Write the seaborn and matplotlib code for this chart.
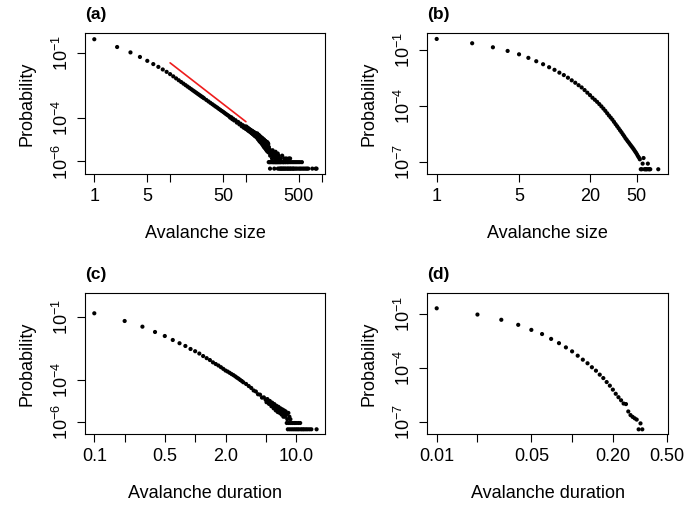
import numpy as np
import pandas as pd
import matplotlib
matplotlib.use("Agg")
import matplotlib.pyplot as plt
import seaborn as sns
from matplotlib.ticker import FixedLocator, FixedFormatter, NullLocator

# ---------------- data (log10 of probability) -------------
size_a = [1, 2, 3, 4, 5, 6, 7, 8, 9, 10,
          11, 12, 13, 14, 15, 16, 17, 18, 19, 20, 21, 22, 23, 24, 25, 26, 27, 28,
          30, 32, 34, 36, 38, 40, 42, 44, 46, 48, 50, 52, 54, 56, 58, 60, 62, 64,
          66, 68, 70, 73, 76, 79, 82, 85, 88, 91, 94, 97, 100,
          101, 103, 105, 107, 109, 111, 113, 115, 117, 119, 121, 123, 125, 127,
          129, 131, 133, 135, 137, 139, 141, 143, 145, 147, 149, 151, 153, 155,
          157, 159, 161, 163, 165, 167, 169, 171, 173, 175, 177, 179, 181, 183,
          185, 187, 189, 191, 193, 195, 197, 199,
          102, 104, 106, 108, 110, 112, 114, 116, 118, 120, 122, 124, 126, 128,
          130, 132, 134, 136, 138, 140, 142, 144, 146, 148, 150, 152, 154, 156,
          158, 160, 162, 164, 166, 168, 170, 172, 174, 176, 178, 180, 182, 184,
          186, 188, 190, 192, 194, 196, 198,
          201, 203, 206, 209, 213, 217, 221, 225, 230, 235, 241, 246, 251, 256,
          263, 270, 277, 289, 301, 322, 341, 368, 383,
          200, 205, 211, 219, 227, 232, 238, 244, 249, 254, 260, 266, 273, 281,
          286, 294, 305, 312, 318, 330, 338, 352, 360, 375, 392, 410, 428, 447,
          468, 490, 515, 548,
          208, 237, 264, 276, 284, 292, 298, 309, 315, 326, 334, 346, 357, 365,
          378, 388, 398, 415, 422, 438, 455, 475, 498, 520, 540, 565, 590, 615,
          640, 665, 752, 832, 855]
logp_a = [-0.34, -0.70, -0.95, -1.16, -1.34, -1.49, -1.62, -1.74, -1.85, -1.955,
          -2.058, -2.153, -2.24, -2.32, -2.395, -2.465, -2.531, -2.593, -2.652,
          -2.708, -2.76, -2.811, -2.86, -2.906, -2.95, -2.993, -3.03, -3.073,
          -3.148, -3.218, -3.284, -3.346, -3.405, -3.46, -3.51, -3.565, -3.612,
          -3.66, -3.70, -3.745, -3.79, -3.83, -3.864, -3.90, -3.97, -3.95,
          -4.04, -4.02, -4.10, -4.09, -4.20, -4.17, -4.28, -4.25, -4.37, -4.32,
          -4.44, -4.38, -4.50,
          -4.38, -4.50, -4.46, -4.57, -4.48, -4.60, -4.52, -4.64, -4.57, -4.69,
          -4.58, -4.73, -4.62, -4.77, -4.65, -4.82, -4.68, -4.85, -4.72, -4.88,
          -4.70, -4.95, -4.76, -5.00, -4.78, -5.06, -4.83, -5.10, -4.86, -5.14,
          -4.90, -5.19, -4.92, -5.24, -4.98, -5.30, -4.98, -5.35, -5.03, -5.38,
          -5.05, -5.43, -5.08, -5.48, -5.10, -5.52, -5.12, -5.55, -5.18, -5.57,
          -4.41, -4.52, -4.44, -4.55, -4.51, -4.61, -4.53, -4.55, -4.67, -4.60,
          -4.70, -4.63, -4.74, -4.66, -4.78, -4.70, -4.79, -4.73, -4.84, -4.76,
          -4.88, -4.79, -4.91, -4.82, -4.95, -4.86, -4.99, -4.89, -5.03, -4.94,
          -5.08, -4.96, -5.12, -5.00, -5.15, -5.02, -5.20, -5.06, -5.22, -5.09,
          -5.27, -5.12, -5.30, -5.14, -5.33, -5.17, -5.36, -5.20, -5.38,
          -5.33, -5.60, -5.45, -5.73, -5.55, -5.63, -5.86, -5.48, -5.73, -5.63,
          -5.86, -5.55, -5.73, -5.86, -5.63, -5.73, -5.86, -5.86, -5.73, -5.86,
          -5.86, -5.86, -5.86,
          -6.03, -6.03, -6.03, -6.03, -6.03, -6.03, -6.03, -6.03, -6.03, -6.03,
          -6.03, -6.03, -6.03, -6.03, -6.03, -6.03, -6.03, -6.03, -6.03, -6.03,
          -6.03, -6.03, -6.03, -6.03, -6.03, -6.03, -6.03, -6.03, -6.03, -6.03,
          -6.03, -6.03,
          -6.33, -6.33, -6.33, -6.33, -6.33, -6.33, -6.33, -6.33, -6.33, -6.33,
          -6.33, -6.33, -6.33, -6.33, -6.33, -6.33, -6.33, -6.33, -6.33, -6.33,
          -6.33, -6.33, -6.33, -6.33, -6.33, -6.33, -6.33, -6.33, -6.33, -6.33,
          -6.33, -6.33, -6.33]
fit_a_x = [10, 100]
fit_a_logp = [-1.434, -4.157]

size_b = list(range(1, 66)) + [76]
logp_b = [-0.41, -0.64, -0.855, -1.05, -1.23, -1.42, -1.60, -1.76, -1.92, -2.06,
          -2.21, -2.34, -2.48, -2.62, -2.75, -2.88, -3.00, -3.14, -3.28, -3.41,
          -3.55, -3.66, -3.77, -3.89, -4.01, -4.13, -4.25, -4.38, -4.50, -4.61,
          -4.72, -4.84, -4.96, -5.07, -5.18, -5.29, -5.39, -5.50, -5.60, -5.71,
          -5.80, -5.89, -5.97, -6.06, -6.14, -6.22, -6.30, -6.39, -6.47, -6.56,
          -6.66, -6.74, -6.84, -7.37, -7.37, -7.07, -6.77, -7.37, -7.37, -7.37,
          -7.37, -7.07, -7.37, -7.37, -7.37, -7.37]

dur_c = [0.1, 0.2, 0.3, 0.4, 0.5, 0.6, 0.7, 0.8, 0.9, 1.0, 1.1, 1.2, 1.3, 1.4,
         1.5, 1.6, 1.7, 1.8, 1.9, 2.0, 2.1, 2.2, 2.3, 2.4, 2.5, 2.6, 2.7, 2.8,
         2.9, 3.0, 3.2, 3.4, 3.6, 3.8, 4.0, 4.2, 4.4, 4.6, 4.8,
         5.0, 5.1, 5.2, 5.3, 5.4, 5.5, 5.6, 5.7, 5.8, 5.9, 6.0, 6.1, 6.2, 6.3,
         6.4, 6.5, 6.6, 6.7, 6.8, 6.9, 7.0, 7.1, 7.2, 7.3, 7.4, 7.5, 7.6, 7.7,
         7.8, 7.9, 8.0, 8.2, 8.4, 8.6, 8.8,
         8.1, 8.5, 8.9, 9.3, 9.7, 10.0, 10.5, 11.0,
         8.3, 8.7, 9.1, 9.5, 9.9, 10.3, 10.7, 11.2, 11.6, 12.0, 12.5, 13.0,
         13.6, 14.2, 16.0]
logp_c = [-0.843, -1.21, -1.48, -1.734, -1.925, -2.115, -2.27, -2.40, -2.544,
          -2.65, -2.76, -2.88, -2.98, -3.07, -3.18, -3.26, -3.33, -3.41, -3.49,
          -3.57, -3.62, -3.68, -3.74, -3.79, -3.85, -3.91, -3.96, -4.02, -4.07,
          -4.13, -4.21, -4.31, -4.40, -4.52, -4.57, -4.70, -4.72, -4.86, -4.85,
          -4.96, -5.08, -4.93, -5.05, -5.16, -5.02, -5.15, -5.27, -5.10, -5.24,
          -5.37, -5.17, -5.32, -5.47, -5.25, -5.40, -5.55, -5.30, -5.47, -5.59,
          -5.37, -5.52, -5.67, -5.42, -5.59, -5.77, -5.47, -5.67, -5.77, -5.52,
          -5.67, -5.89, -5.59, -5.77, -5.89,
          -6.07, -6.07, -6.07, -6.07, -6.07, -6.07, -6.07, -6.07,
          -6.37, -6.37, -6.37, -6.37, -6.37, -6.37, -6.37, -6.37, -6.37, -6.37,
          -6.37, -6.37, -6.37, -6.37, -6.37]

dur_d = [0.01, 0.02, 0.03, 0.04, 0.05, 0.06, 0.07, 0.08, 0.09, 0.10, 0.11,
         0.12, 0.13, 0.14, 0.15, 0.16, 0.17, 0.18, 0.19, 0.20, 0.21, 0.22,
         0.23, 0.24, 0.25, 0.26, 0.27, 0.28, 0.29, 0.30, 0.31, 0.32, 0.33]
logp_d = [-0.684, -1.03, -1.32, -1.60, -1.88, -2.11, -2.38, -2.615, -2.85,
          -3.07, -3.31, -3.53, -3.73, -3.95, -4.14, -4.36, -4.55, -4.77, -4.97,
          -5.19, -5.42, -5.61, -5.78, -5.96, -5.99, -6.40, -6.60, -6.70, -6.78,
          -6.85, -7.39, -7.06, -7.39]

ytick_labels_6 = ["$10^{-1}$", "$10^{-4}$", "$10^{-6}$"]
ytick_labels_7 = ["$10^{-1}$", "$10^{-4}$", "$10^{-7}$"]

# ---------------- style -------------
sns.set_style("ticks")
plt.rcParams["font.family"] = ["Liberation Sans", "DejaVu Sans"]
plt.rcParams["mathtext.default"] = "regular"

FS = 13
fig = plt.figure(figsize=(6.85, 5.2), dpi=100)

panels = [
    dict(tag="(a)", x=size_a, lp=logp_a, rect=[85, 33.3, 325, 174],
         xlim=(-0.1227, 3.0435), ylim=(-6.579, -0.065),
         xt=[1, 5, 10, 50, 100, 500, 1000], xl=["1", "5", "", "50", "", "500", ""],
         yt=[1e-1, 1e-4, 1e-6], yl=ytick_labels_6, xlabel="Avalanche size"),
    dict(tag="(b)", x=size_b, lp=logp_b, rect=[427.3, 33.3, 668.3, 174],
         xlim=(-0.0798, 1.966), ylim=(-7.624, -0.108),
         xt=[1, 5, 20, 50], xl=["1", "5", "20", "50"],
         yt=[1e-1, 1e-4, 1e-7], yl=ytick_labels_7, xlabel="Avalanche size"),
    dict(tag="(c)", x=dur_c, lp=logp_c, rect=[85, 293.3, 325, 434],
         xlim=(-1.0922, 1.2876), ylim=(-6.594, 0.1095),
         xt=[0.1, 0.2, 0.5, 1, 2, 5, 10], xl=["0.1", "", "0.5", "", "2.0", "", "10.0"],
         yt=[1e-1, 1e-4, 1e-6], yl=ytick_labels_6, xlabel="Avalanche duration"),
    dict(tag="(d)", x=dur_d, lp=logp_d, rect=[427.3, 293.3, 668.3, 434],
         xlim=(-2.0694, -0.2895), ylim=(-7.648, 0.147),
         xt=[0.01, 0.02, 0.05, 0.1, 0.2, 0.5], xl=["0.01", "", "0.05", "", "0.20", "0.50"],
         yt=[1e-1, 1e-4, 1e-7], yl=ytick_labels_7, xlabel="Avalanche duration"),
]

W, H = 685.0, 520.0
for p in panels:
    l, t, r, b = p["rect"]
    ax = fig.add_axes([l / W, 1 - b / H, (r - l) / W, (b - t) / H])
    df = pd.DataFrame({"x": p["x"], "p": np.power(10.0, p["lp"])})
    sns.scatterplot(data=df, x="x", y="p", ax=ax, color="black", s=9,
                    linewidth=0, edgecolor="none")
    if p["tag"] == "(a)":
        fit = pd.DataFrame({"x": fit_a_x, "p": np.power(10.0, fit_a_logp)})
        sns.lineplot(data=fit, x="x", y="p", ax=ax, color="#ee1c1c", linewidth=1.2)
    ax.set_xscale("log")
    ax.set_yscale("log")
    ax.set_xlim(10 ** p["xlim"][0], 10 ** p["xlim"][1])
    ax.set_ylim(10 ** p["ylim"][0], 10 ** p["ylim"][1])
    ax.xaxis.set_major_locator(FixedLocator(p["xt"]))
    ax.xaxis.set_major_formatter(FixedFormatter(p["xl"]))
    ax.yaxis.set_major_locator(FixedLocator(p["yt"]))
    ax.yaxis.set_major_formatter(FixedFormatter(p["yl"]))
    ax.xaxis.set_minor_locator(NullLocator())
    ax.yaxis.set_minor_locator(NullLocator())
    ax.tick_params(axis="both", direction="out", length=5.5, width=0.8,
                   color="black", labelsize=FS, labelcolor="black")
    ax.tick_params(axis="x", pad=4.8)
    ax.tick_params(axis="y", pad=4.2, labelrotation=90)
    for lab in ax.get_yticklabels():
        lab.set_va("center")
    for s in ax.spines.values():
        s.set_visible(True)
        s.set_color("black")
        s.set_linewidth(0.8)
    ax.set_xlabel(p["xlabel"], fontsize=FS, color="black")
    ax.set_ylabel("Probability", fontsize=FS, color="black")
    ax.xaxis.set_label_coords(0.5, -0.365)
    ax.yaxis.set_label_coords(-0.206, 0.5)
    ax.text(0.0, 1.10, p["tag"], transform=ax.transAxes, ha="left",
            va="baseline", fontsize=12.5, fontweight="bold", color="black")
    ax.set_facecolor("white")

fig.savefig("out.png", dpi=100, facecolor="white")
